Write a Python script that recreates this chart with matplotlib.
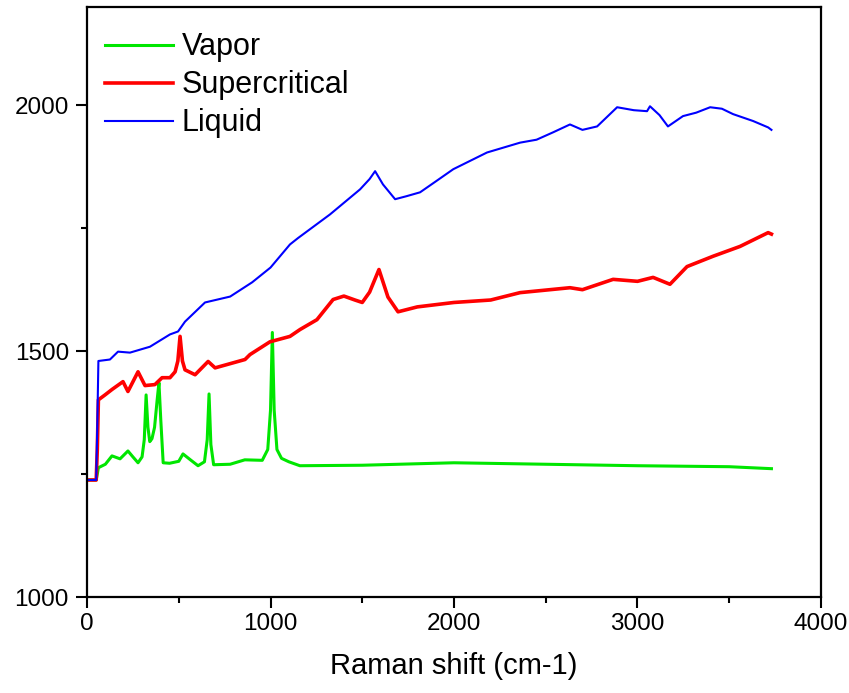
import matplotlib
matplotlib.use("Agg")
import matplotlib.pyplot as plt
from matplotlib.ticker import MultipleLocator

plt.rcParams["font.family"] = ["Liberation Sans", "DejaVu Sans"]

# Raman shift (cm-1) / intensity
vapor_x = [0, 50, 56, 62, 100, 136, 180, 223, 250, 278, 300, 312, 322, 332, 342,
           354, 368, 382, 392, 402, 415, 450, 500, 523, 560, 605, 640, 655, 665,
           675, 690, 780, 860, 955, 985, 1000, 1010, 1020, 1035, 1060, 1100, 1160,
           1500, 2000, 2500, 3000, 3500, 3730]
vapor_y = [1238, 1238, 1250, 1263, 1270, 1287, 1281, 1297, 1285, 1273, 1285, 1320,
           1411, 1345, 1316, 1322, 1345, 1400, 1436, 1360, 1273, 1272, 1276, 1291,
           1280, 1267, 1275, 1320, 1413, 1310, 1269, 1270, 1279, 1278, 1300, 1380,
           1538, 1380, 1300, 1282, 1275, 1267, 1268, 1273, 1270, 1267, 1265, 1261]

super_x = [0, 50, 56, 62, 98, 136, 196, 223, 278, 316, 370, 409, 452, 480, 495,
           507, 520, 534, 589, 660, 698, 861, 888, 997, 1106, 1161, 1253, 1341,
           1400, 1460, 1500, 1540, 1591, 1640, 1695, 1800, 2000, 2200, 2360, 2632,
           2700, 2867, 3000, 3085, 3177, 3270, 3412, 3559, 3712, 3730]
super_y = [1238, 1238, 1300, 1401, 1411, 1422, 1438, 1418, 1458, 1430, 1432, 1446,
           1446, 1458, 1480, 1530, 1480, 1462, 1452, 1479, 1466, 1483, 1493, 1519,
           1530, 1544, 1564, 1605, 1612, 1604, 1599, 1620, 1666, 1610, 1580, 1590,
           1599, 1604, 1619, 1629, 1625, 1646, 1642, 1650, 1636, 1672, 1693, 1713,
           1741, 1738]

liquid_x = [0, 50, 56, 62, 125, 169, 234, 343, 452, 496, 534, 643, 780, 900, 1000,
            1106, 1150, 1324, 1488, 1540, 1570, 1613, 1679, 1740, 1815, 1900, 1996,
            2180, 2360, 2450, 2540, 2632, 2700, 2780, 2889, 2980, 3052, 3068, 3120,
            3166, 3248, 3320, 3396, 3460, 3521, 3630, 3712, 3730]
liquid_y = [1238, 1238, 1350, 1480, 1483, 1499, 1497, 1509, 1534, 1540, 1560, 1599,
            1611, 1640, 1670, 1717, 1730, 1778, 1829, 1850, 1866, 1839, 1809, 1815,
            1823, 1845, 1870, 1904, 1924, 1930, 1945, 1961, 1950, 1957, 1996, 1990,
            1988, 1998, 1980, 1957, 1978, 1985, 1996, 1993, 1982, 1968, 1955, 1950]

fig = plt.figure(figsize=(8.49, 6.93), dpi=100)
ax = fig.add_axes([0.1025, 0.1385, 0.8645, 0.8515])

ax.plot(vapor_x, vapor_y, color="#00e600", lw=2.2, label="Vapor")
ax.plot(super_x, super_y, color="#ff0000", lw=2.6, label="Supercritical")
ax.plot(liquid_x, liquid_y, color="#0000ff", lw=1.5, label="Liquid")

ax.set_xlim(0, 4000)
ax.set_ylim(1000, 2200)
ax.xaxis.set_major_locator(MultipleLocator(1000))
ax.xaxis.set_minor_locator(MultipleLocator(500))
ax.set_yticks([1000, 1500, 2000])
ax.set_yticks([1250, 1750], minor=True)
ax.tick_params(which="major", direction="out", length=8, width=1.5,
               labelsize=17.5, top=False, right=False)
ax.tick_params(which="minor", direction="out", length=4.5, width=1.5,
               top=False, right=False)
ax.tick_params(axis="y", which="major", pad=5)
for side in ax.spines.values():
    side.set_linewidth(1.6)

ax.set_xlabel("Raman shift (cm-1)", fontsize=21, labelpad=12)

ax.legend(loc="upper left", frameon=False, fontsize=22, handlelength=2.2,
          handletextpad=0.3, labelspacing=0.26, borderaxespad=0.2,
          bbox_to_anchor=(0.0, 0.988))

fig.savefig("out.png", dpi=100)
